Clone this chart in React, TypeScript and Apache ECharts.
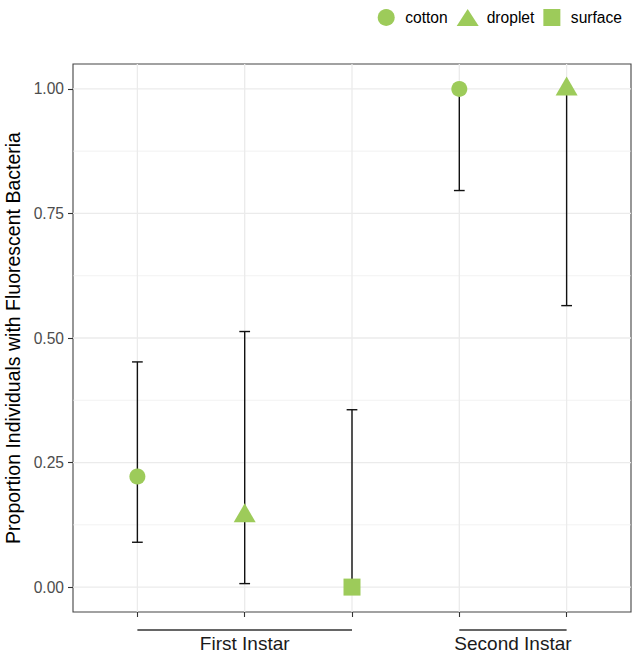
import React, { useEffect, useRef } from "react";
import * as echarts from "echarts";

// ---- data ----
const media: string[] = ["cotton", "droplet", "surface", "cotton", "droplet"];
const xPos: number[] = [1, 2, 3, 4, 5];
const proportion: number[] = [0.222, 0.143, 0.0, 1.0, 1.0];
const lowerCI: number[] = [0.09, 0.007, 0.0, 0.796, 0.565];
const upperCI: number[] = [0.452, 0.513, 0.356, 1.0, 1.0];

const groupLabels: string[] = ["First Instar", "Second Instar"];
const groupStart: number[] = [1, 4];
const groupEnd: number[] = [3, 5];

const yTickValues: number[] = [0, 0.25, 0.5, 0.75, 1];
const yMinorValues: number[] = [0.125, 0.375, 0.625, 0.875];

const legendNames: string[] = ["cotton", "droplet", "surface"];

const GREEN = "#9dcb5a";
const FONT = "Liberation Sans, Arial, Helvetica, sans-serif";

export default function App() {
  const ref = useRef<HTMLDivElement | null>(null);

  useEffect(() => {
    if (!ref.current) return;
    const chart = echarts.init(ref.current, null, { renderer: "svg" });

    const symbolFor: Record<string, any> = {
      cotton: { symbol: "circle", symbolSize: 16, symbolOffset: [0, 0] },
      droplet: { symbol: "triangle", symbolSize: [22, 19], symbolOffset: [0, -3] },
      surface: { symbol: "rect", symbolSize: 17, symbolOffset: [0, 0] },
    };

    const scatterSeries = legendNames.map((name) => ({
      type: "scatter",
      name,
      z: 5,
      silent: true,
      itemStyle: { color: GREEN, opacity: 1 },
      symbol: symbolFor[name].symbol,
      symbolSize: symbolFor[name].symbolSize,
      symbolOffset: symbolFor[name].symbolOffset,
      data: xPos
        .map((x, i) => ({ x, i }))
        .filter((d) => media[d.i] === name)
        .map((d) => [d.x, proportion[d.i]]),
    }));

    const gridColor = "#ebebeb";

    const option: any = {
      animation: false,
      textStyle: { fontFamily: FONT },
      grid: {
        left: 73,
        top: 64,
        right: 2,
        bottom: 43,
        containLabel: false,
        outerBoundsMode: "none",
        show: true,
        borderColor: "#444444",
        borderWidth: 1.1,
        backgroundColor: "transparent",
      },
      legend: {
        right: 11,
        top: 9,
        padding: 0,
        itemWidth: 22,
        itemHeight: 17,
        itemGap: 9,
        selectedMode: false,
        textStyle: { fontSize: 15.6, color: "#000", fontFamily: FONT, padding: [0, 0, 0, 3] },
        data: [
          { name: "cotton", icon: "circle" },
          { name: "droplet", icon: "triangle" },
          { name: "surface", icon: "path://M0,0L1,0L1,1L0,1Z" },
        ],
      },
      xAxis: {
        type: "value",
        min: 0.4,
        max: 5.6,
        axisLine: { show: false, onZero: false },
        splitLine: { show: false },
        axisTick: {
          show: true,
          length: 5,
          customValues: xPos,
          lineStyle: { color: "#333333", width: 1.1 },
        },
        axisLabel: { show: false },
      },
      yAxis: {
        type: "value",
        min: -0.05,
        max: 1.05,
        name: "Proportion Individuals with Fluorescent Bacteria",
        nameLocation: "middle",
        nameRotate: 90,
        nameGap: 50,
        nameTextStyle: { fontSize: 19.5, color: "#000", fontFamily: FONT },
        axisLine: { show: false, onZero: false },
        splitLine: { show: false },
        axisTick: {
          show: true,
          length: 5,
          customValues: yTickValues,
          lineStyle: { color: "#333333", width: 1.1 },
        },
        axisLabel: {
          customValues: yTickValues,
          margin: 9,
          fontSize: 15.6,
          color: "#4d4d4d",
          fontFamily: FONT,
          formatter: (v: number) => v.toFixed(2),
        },
      },
      series: [
        // horizontal grid lines
        {
          type: "custom",
          silent: true,
          z: 0,
          data: [
            ...yMinorValues.map((v) => [v, 0]),
            ...yTickValues.map((v) => [v, 1]),
          ],
          renderItem: (params: any, api: any) => {
            const cs = params.coordSys;
            const v = api.value(0);
            const major = api.value(1) === 1;
            const y = api.coord([1, v])[1];
            return {
              type: "line",
              shape: { x1: cs.x, y1: y, x2: cs.x + cs.width, y2: y },
              style: { stroke: gridColor, lineWidth: major ? 1.3 : 0.65 },
            };
          },
        },
        // vertical grid lines
        {
          type: "custom",
          silent: true,
          z: 0,
          data: xPos.map((x) => [x, 0]),
          renderItem: (params: any, api: any) => {
            const cs = params.coordSys;
            const x = api.coord([api.value(0), 0])[0];
            return {
              type: "line",
              shape: { x1: x, y1: cs.y, x2: x, y2: cs.y + cs.height },
              style: { stroke: gridColor, lineWidth: 1.3 },
            };
          },
        },
        // error bars
        {
          type: "custom",
          silent: true,
          z: 3,
          data: xPos.map((x, i) => [x, lowerCI[i], upperCI[i]]),
          encode: { x: 0, y: [1, 2] },
          renderItem: (params: any, api: any) => {
            const x = api.value(0);
            const lo = api.coord([x, api.value(1)]);
            const hi = api.coord([x, api.value(2)]);
            const half = api.size([0.1, 0])[0] / 2;
            const st = { stroke: "#111111", lineWidth: 1.4 };
            return {
              type: "group",
              children: [
                { type: "line", shape: { x1: lo[0], y1: lo[1], x2: hi[0], y2: hi[1] }, style: st },
                { type: "line", shape: { x1: hi[0] - half, y1: hi[1], x2: hi[0] + half, y2: hi[1] }, style: st },
                { type: "line", shape: { x1: lo[0] - half, y1: lo[1], x2: lo[0] + half, y2: lo[1] }, style: st },
              ],
            };
          },
        },
        // group brackets and labels under the x axis
        {
          type: "custom",
          silent: true,
          z: 3,
          clip: false,
          data: groupLabels.map((_, i) => [groupStart[i], groupEnd[i], i]),
          renderItem: (params: any, api: any) => {
            const cs = params.coordSys;
            const x1 = api.coord([api.value(0), 0])[0];
            const x2 = api.coord([api.value(1), 0])[0];
            const idx = api.value(2);
            const yLine = cs.y + cs.height + 18;
            return {
              type: "group",
              children: [
                {
                  type: "line",
                  shape: { x1, y1: yLine, x2, y2: yLine },
                  style: { stroke: "#333333", lineWidth: 1.3 },
                },
                {
                  type: "text",
                  x: (x1 + x2) / 2,
                  y: yLine + 13,
                  style: {
                    text: groupLabels[idx],
                    textAlign: "center",
                    textVerticalAlign: "middle",
                    fontSize: 19,
                    fontFamily: FONT,
                    fill: "#1a1a1a",
                  },
                },
              ],
            };
          },
        },
        ...scatterSeries,
      ],
    };

    chart.setOption(option);
    return () => chart.dispose();
  }, []);

  return <div ref={ref} style={{ width: 633, height: 655, position: "absolute", left: 0, top: 0 }} />;
}
